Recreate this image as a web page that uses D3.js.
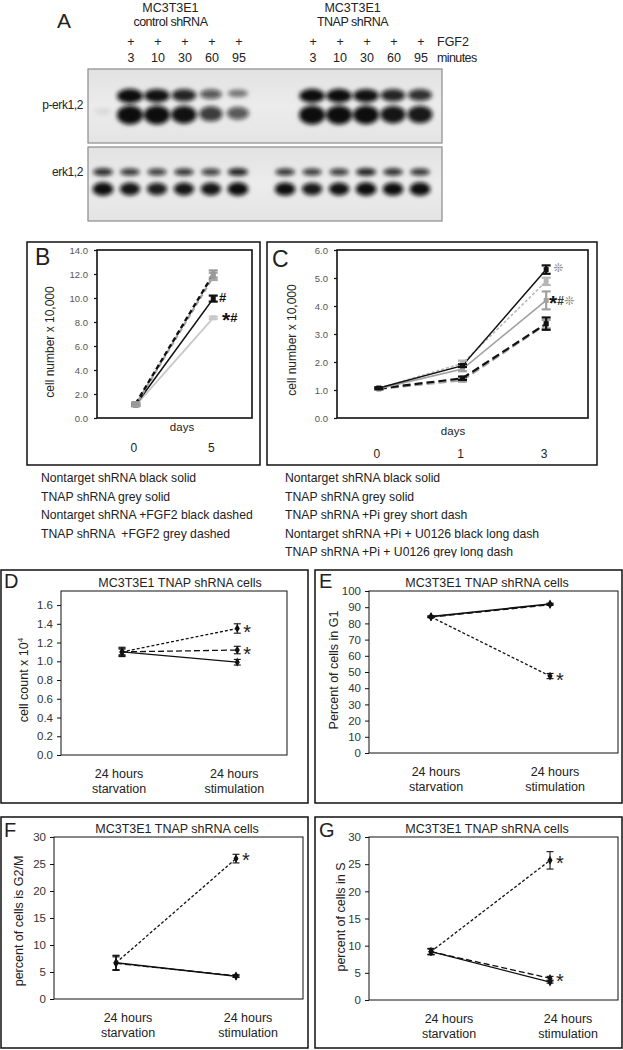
<!DOCTYPE html>
<html><head><meta charset="utf-8">
<script src="https://cdn.jsdelivr.net/npm/d3@7"></script>
<style>
body{margin:0;background:#fff}
text{font-family:"Liberation Sans",Arial,Helvetica,sans-serif;fill:#222}
</style>
</head><body>
<script>
// ================= DATA =================
// Panel A – western blot (band intensity 0..1), lanes: 0 (unstimulated) + 5 time points
const blotGroups = ["control shRNA", "TNAP shRNA"];
const blotTimes = ["3", "10", "30", "60", "95"];
const perkUpperCtrl = [0.0, 1.0, 0.92, 0.82, 0.55, 0.35];
const perkLowerCtrl = [0.06, 1.0, 1.0, 0.92, 0.7, 0.55];
const perkUpperTnap = [0.0, 0.95, 0.95, 0.92, 0.82, 0.76];
const perkLowerTnap = [0.0, 1.0, 1.0, 0.98, 0.9, 0.88];
const erkUpperCtrl = [0.8, 0.75, 0.7, 0.76, 0.7, 0.86];
const erkLowerCtrl = [1.0, 0.9, 0.86, 0.9, 0.9, 1.0];
const erkUpperTnap = [0.75, 0.72, 0.72, 0.86, 0.78, 0.76];
const erkLowerTnap = [0.95, 0.88, 0.92, 1.0, 0.95, 1.0];

// Panel B
const daysB = ["0", "5"];
const bBlackDashed = [1.2, 12.0], bBlackDashedErr = [0.12, 0.3];
const bGreyDashed = [1.1, 11.8], bGreyDashedErr = [0.1, 0.3];
const bBlackSolid = [1.1, 9.95], bBlackSolidErr = [0.1, 0.25];
const bGreySolid = [1.05, 8.35], bGreySolidErr = [0.08, 0.1];
const ticksB = [0, 2, 4, 6, 8, 10, 12, 14];

// Panel C
const daysC = ["0", "1", "3"];
const cBlackSolid = [1.07, 1.87, 5.3], cBlackSolidErr = [0.03, 0.05, 0.15];
const cGreySolid = [1.05, 1.75, 4.2], cGreySolidErr = [0.03, 0.08, 0.32];
const cGreyShort = [1.06, 1.95, 4.88], cGreyShortErr = [0.03, 0.1, 0.13];
const cBlackLong = [1.05, 1.42, 3.37], cBlackLongErr = [0.03, 0.06, 0.22];
const cGreyLong = [1.04, 1.35, 3.35], cGreyLongErr = [0.03, 0.05, 0.15];
const ticksC = [0, 1, 2, 3, 4, 5, 6];

const legendB = ["Nontarget shRNA black solid", "TNAP shRNA grey solid",
  "Nontarget shRNA +FGF2 black dashed", "TNAP shRNA  +FGF2 grey dashed"];
const legendC = ["Nontarget shRNA black solid", "TNAP shRNA grey solid",
  "TNAP shRNA +Pi grey short dash", "Nontarget shRNA +Pi + U0126 black long dash",
  "TNAP shRNA +Pi + U0126 grey long dash"];

// Panels D-G
const cycleCats = ["24 hours starvation", "24 hours stimulation"];
const panelTitle = "MC3T3E1 TNAP shRNA cells";
const dShort = [1.10, 1.35], dShortErr = [0.04, 0.05];
const dLong = [1.10, 1.12], dLongErr = [0.05, 0.04];
const dSolid = [1.10, 0.99], dSolidErr = [0.03, 0.03];
const ticksD = [0, 0.2, 0.4, 0.6, 0.8, 1.0, 1.2, 1.4, 1.6];
const eShort = [84, 47.5], eShortErr = [0.5, 1.6];
const eLong = [84, 91.6], eLongErr = [0.4, 0.5];
const eSolid = [84.2, 92], eSolidErr = [0.4, 0.5];
const ticksE = [0, 10, 20, 30, 40, 50, 60, 70, 80, 90, 100];
const fShort = [6.7, 26.0], fShortErr = [1.4, 0.8];
const fLong = [6.6, 4.3], fLongErr = [1.2, 0.2];
const fSolid = [6.7, 4.2], fSolidErr = [1.3, 0.2];
const ticksF = [0, 5, 10, 15, 20, 25, 30];
const gShort = [8.9, 25.7], gShortErr = [0.6, 1.6];
const gLong = [8.9, 4.0], gLongErr = [0.5, 0.35];
const gSolid = [8.9, 3.3], gSolidErr = [0.5, 0.2];
const ticksG = [0, 5, 10, 15, 20, 25, 30];

// ================= DRAW =================
const svg = d3.select("body").append("svg").attr("width", 623).attr("height", 1050);
svg.append("rect").attr("width", 623).attr("height", 1050).attr("fill", "#fff");
const defs = svg.append("defs");
defs.append("filter").attr("id", "blur").attr("x", "-50%").attr("y", "-80%").attr("width", "200%").attr("height", "260%")
  .append("feGaussianBlur").attr("stdDeviation", 2.0);
defs.append("clipPath").attr("id", "legclip").append("rect").attr("x", 0).attr("y", 460).attr("width", 623).attr("height", 97.5);
const grad = defs.append("linearGradient").attr("id", "blotbg").attr("x1", 0).attr("x2", 0).attr("y1", 0).attr("y2", 1);
grad.append("stop").attr("offset", "0%").attr("stop-color", "#e2e2e2");
grad.append("stop").attr("offset", "50%").attr("stop-color", "#ececec");
grad.append("stop").attr("offset", "100%").attr("stop-color", "#e4e4e4");

// ---------- Panel A ----------
const gA = svg.append("g");
gA.append("text").attr("x", 57).attr("y", 28).attr("font-size", 21).text("A");
const laneX = d3.scaleLinear().domain([0, 11.75]).range([103, 420]);
const laneIdx = (g, i) => (g === 0 ? i : 6.75 + i);
blotGroups.forEach((name, g) => {
  const cx = (laneX(laneIdx(g, 0)) + laneX(laneIdx(g, 5))) / 2;
  gA.append("text").attr("x", cx).attr("y", 12).attr("text-anchor", "middle").attr("font-size", 12.5).text("MC3T3E1");
  gA.append("text").attr("x", cx).attr("y", 26).attr("text-anchor", "middle").attr("font-size", 12.5)
    .attr("letter-spacing", -0.5).text(name);
  blotTimes.forEach((t, k) => {
    const x = laneX(laneIdx(g, k + 1)) + 1;
    gA.append("text").attr("x", x).attr("y", 46).attr("text-anchor", "middle").attr("font-size", 12.5).text("+");
    gA.append("text").attr("x", x).attr("y", 62).attr("text-anchor", "middle").attr("font-size", 12.5).text(t);
  });
});
gA.append("text").attr("x", 437).attr("y", 46).attr("font-size", 12.5).text("FGF2");
gA.append("text").attr("x", 437).attr("y", 62).attr("font-size", 12.5).attr("letter-spacing", -0.6).text("minutes");

const blots = [
  { label: "p-erk1,2", y0: 69, y1: 143, labelY: 109, rx: d => 8.5 + 4.5 * d,
    bands: [
      { vals: [perkUpperCtrl, perkUpperTnap], cy: i => 92 + 4 * i, ry: i => 2.2 + 5 * i },
      { vals: [perkLowerCtrl, perkLowerTnap], cy: i => 111 + 4 * i, ry: i => 3 + 6.5 * i }
    ] },
  { label: "erk1,2", y0: 147, y1: 221, labelY: 176, rx: d => 8 + 2.5 * d,
    bands: [
      { vals: [erkUpperCtrl, erkUpperTnap], cy: i => 172, ry: i => 1.8 + 2.4 * i },
      { vals: [erkLowerCtrl, erkLowerTnap], cy: i => 189, ry: i => 2.8 + 4 * i }
    ] }
];
blots.forEach(b => {
  gA.append("rect").attr("x", 88).attr("y", b.y0).attr("width", 354).attr("height", b.y1 - b.y0)
    .attr("fill", "url(#blotbg)").attr("stroke", "#8c8c8c").attr("stroke-width", 1.2);
  gA.append("text").attr("x", 83).attr("y", b.labelY).attr("text-anchor", "end").attr("font-size", 12)
    .attr("letter-spacing", -0.4).text(b.label);
  const bg = gA.append("g").attr("filter", "url(#blur)");
  b.bands.forEach(band => {
    band.vals.forEach((arr, g) => {
      bg.selectAll(null).data(arr).join("ellipse")
        .attr("cx", (d, i) => laneX(laneIdx(g, i)))
        .attr("cy", d => band.cy(d))
        .attr("rx", d => b.rx(d))
        .attr("ry", d => band.ry(d))
        .attr("fill", "#0b0b0b")
        .attr("fill-opacity", d => (d <= 0 ? 0 : d < 0.2 ? d * 1.2 : Math.min(1, 0.2 + 0.85 * d)));
    });
  });
});

// ---------- helper for B & C ----------
function growthPanel(o) {
  const g = svg.append("g");
  g.append("rect").attr("x", o.box[0]).attr("y", o.box[1]).attr("width", o.box[2] - o.box[0]).attr("height", o.box[3] - o.box[1])
    .attr("fill", "none").attr("stroke", "#111").attr("stroke-width", 1.5);
  g.append("text").attr("x", o.letter[1]).attr("y", o.letter[2]).attr("font-size", 23).text(o.letter[0]);
  const [l, t, r, b] = o.plot;
  const x = d3.scalePoint().domain(o.cats).range([l, r]).padding(0.5);
  const y = d3.scaleLinear().domain(o.domain).range([b, t]);
  const ax = g.append("g").attr("transform", `translate(${l},0)`)
    .call(d3.axisLeft(y).tickValues(o.ticks).tickFormat(d3.format(".1f")).tickSize(3).tickPadding(6));
  ax.select(".domain").remove();
  ax.selectAll("line").attr("stroke", "#111").attr("stroke-width", 1.2);
  ax.selectAll("text").attr("font-size", 9.5).style("fill", "#555").attr("font-family", "Liberation Sans, Arial, sans-serif");
  g.append("rect").attr("x", l).attr("y", t).attr("width", r - l).attr("height", b - t)
    .attr("fill", "none").attr("stroke", "#111").attr("stroke-width", 1.6);
  g.append("text").attr("x", o.daysX).attr("y", o.daysY).attr("text-anchor", "middle").attr("font-size", 11.5).text("days");
  g.selectAll(null).data(o.cats).join("text").attr("x", d => x(d) - 2).attr("y", o.catY)
    .attr("text-anchor", "middle").attr("font-size", 12).text(d => d);
  g.append("text").attr("transform", `translate(${o.ylabX},${(t + b) / 2 + o.ylabDy}) rotate(-90)`)
    .attr("text-anchor", "middle").attr("dy", "0.35em").attr("font-size", 12).text("cell number x 10,000");
  const line = d3.line().x((d, i) => x(o.cats[i])).y(d => y(d));
  o.series.forEach(s => {
    g.append("path").attr("d", line(s.v)).attr("fill", "none").attr("stroke", s.c).attr("stroke-width", s.w)
      .attr("stroke-dasharray", s.dash || null).attr("stroke-dashoffset", s.off || 0);
  });
  o.series.forEach(s => {
    const eg = g.append("g").attr("stroke", s.ec || s.c).attr("stroke-width", 2.2);
    s.v.forEach((v, i) => {
      const cx = x(o.cats[i]);
      const e = s.e[i];
      eg.append("line").attr("x1", cx).attr("x2", cx).attr("y1", y(v - e)).attr("y2", y(v + e));
      [v - e, v + e].forEach(vv => eg.append("line").attr("x1", cx - 4.5).attr("x2", cx + 4.5).attr("y1", y(vv)).attr("y2", y(vv)));
      g.append("rect").attr("x", cx - 2.5).attr("y", y(v) - 2.5).attr("width", 5).attr("height", 5).attr("fill", s.ec || s.c);
    });
  });
  o.notes.forEach(n => {
    const tx = g.append("text").attr("x", n.x).attr("y", y(n.v) + n.dy).attr("font-size", 13);
    n.parts.forEach(p => tx.append("tspan").text(p[0]).style("fill", p[1]).attr("font-size", p[2])
      .attr("font-weight", p[3] || "normal").attr("dy", p[4] || 0)
      .attr("font-family", p[5] || null));
  });
  return { x, y };
}

growthPanel({
  box: [27, 242, 260, 465], plot: [97, 250, 252, 418], letter: ["B", 35, 265],
  cats: daysB, domain: [0, 14], ticks: ticksB, daysX: 182, daysY: 431, catY: 452, ylabX: 50, ylabDy: 8,
  series: [
    { v: bGreySolid, e: bGreySolidErr, c: "#c9c9c9", w: 1.8 },
    { v: bBlackSolid, e: bBlackSolidErr, c: "#111", w: 1.6 },
    { v: bGreyDashed, e: bGreyDashedErr, c: "#a5a5a5", w: 2.4, dash: "5,3", off: 4 },
    { v: bBlackDashed, e: bBlackDashedErr, c: "#111", w: 2.4, dash: "5,3", ec: "#999" }
  ],
  notes: [
    { x: 219, v: 10.0, dy: 4, parts: [["#", "#111", 13, "bold"]] },
    { x: 222, v: 8.4, dy: 10, parts: [["*", "#111", 21, "bold", 0], ["#", "#111", 13, "bold", -5.5]] }
  ]
});

growthPanel({
  box: [267, 242, 597, 465], plot: [337, 250, 588, 418], letter: ["C", 272, 267],
  cats: daysC, domain: [0, 6], ticks: ticksC, daysX: 453, daysY: 435, catY: 458, ylabX: 292, ylabDy: 6,
  series: [
    { v: cGreyLong, e: cGreyLongErr, c: "#a0a0a0", w: 2.2, dash: "8,4" },
    { v: cBlackLong, e: cBlackLongErr, c: "#111", w: 2.2, dash: "8,4" },
    { v: cGreySolid, e: cGreySolidErr, c: "#a0a0a0", w: 1.6 },
    { v: cGreyShort, e: cGreyShortErr, c: "#b5b5b5", w: 1.5, dash: "3,2" },
    { v: cBlackSolid, e: cBlackSolidErr, c: "#111", w: 1.5 }
  ],
  notes: [
    { x: 553, v: 5.4, dy: 5, parts: [["❊", "#8a8a8a", 12, "normal", 0, "DejaVu Sans"]] },
    { x: 549, v: 4.2, dy: 10, parts: [["*", "#111", 21, "bold", 0], ["#", "#333", 12, "bold", -5.5],
      ["❊", "#8a8a8a", 12, "normal", 0, "DejaVu Sans"]] }
  ]
});

// legends
const lg = svg.append("g").attr("clip-path", "url(#legclip)");
lg.selectAll(null).data(legendB).join("text").attr("x", 41).attr("y", (d, i) => 482 + i * 18.5)
  .attr("font-size", 12.2).style("white-space", "pre").text(d => d);
lg.selectAll(null).data(legendC).join("text").attr("x", 285).attr("y", (d, i) => 482 + i * 18.6)
  .attr("font-size", 12.2).style("white-space", "pre").text(d => d);

// ---------- helper for D-G ----------
function cyclePanel(o) {
  const g = svg.append("g");
  g.append("rect").attr("x", o.box[0]).attr("y", o.box[1]).attr("width", o.box[2] - o.box[0]).attr("height", o.box[3] - o.box[1])
    .attr("fill", "none").attr("stroke", "#111").attr("stroke-width", 1.5);
  g.append("text").attr("x", o.letter[1]).attr("y", o.letter[2]).attr("font-size", 20).text(o.letter[0]);
  const [l, t, r, b] = o.plot;
  const w = r - l;
  const x = d3.scalePoint().domain(cycleCats).range([l + w * o.pf[0], l + w * o.pf[1]]);
  const y = d3.scaleLinear().domain(o.domain).range([b, t]);
  g.append("text").attr("x", o.titleX).attr("y", t - 4).attr("text-anchor", "middle").attr("font-size", 12.5).text(panelTitle);
  const ax = g.append("g").attr("transform", `translate(${l},0)`)
    .call(d3.axisLeft(y).tickValues(o.ticks).tickFormat(d3.format(o.fmt)).tickSize(4).tickPadding(4));
  ax.select(".domain").remove();
  ax.selectAll("line").attr("stroke", "#111");
  ax.selectAll("text").attr("font-size", 11.5).style("fill", "#333").attr("font-family", "Liberation Sans, Arial, sans-serif");
  g.append("rect").attr("x", l).attr("y", t).attr("width", w).attr("height", b - t)
    .attr("fill", "none").attr("stroke", "#111").attr("stroke-width", 1);
  cycleCats.forEach(c => {
    const parts = c.split(" ");
    const tx = g.append("text").attr("x", x(c) + o.labDx).attr("y", b + 23).attr("text-anchor", "middle").attr("font-size", 12.5);
    tx.append("tspan").attr("x", x(c) + o.labDx).text(parts[0] + " " + parts[1]);
    tx.append("tspan").attr("x", x(c) + o.labDx).attr("dy", 14.5).text(parts[2]);
  });
  const yl = g.append("text").attr("transform", `translate(${o.ylab[0]},${o.ylab[1]}) rotate(-90)`)
    .attr("text-anchor", "middle").attr("dy", "0.35em").attr("font-size", 12.5);
  yl.append("tspan").text(o.ylabel);
  if (o.sup) yl.append("tspan").attr("font-size", 8).attr("dy", -5).text(o.sup);
  const line = d3.line().x((d, i) => x(cycleCats[i])).y(d => y(d));
  o.series.forEach(s => {
    g.append("path").attr("d", line(s.v)).attr("fill", "none").attr("stroke", "#111").attr("stroke-width", s.w || 1.3)
      .attr("stroke-dasharray", s.dash || null);
    s.v.forEach((v, i) => {
      const cx = x(cycleCats[i]), e = s.e[i];
      g.append("line").attr("x1", cx).attr("x2", cx).attr("y1", y(v - e)).attr("y2", y(v + e)).attr("stroke", "#111").attr("stroke-width", 1.1);
      [v - e, v + e].forEach(vv => g.append("line").attr("x1", cx - 3.5).attr("x2", cx + 3.5).attr("y1", y(vv)).attr("y2", y(vv))
        .attr("stroke", "#111").attr("stroke-width", 1.1));
      g.append("path").attr("d", d3.symbol(d3.symbolDiamond, 22)()).attr("transform", `translate(${cx},${y(v)})`).attr("fill", "#111");
    });
  });
  o.stars.forEach(v => {
    g.append("text").attr("x", x(cycleCats[1]) + 6).attr("y", y(v) + 11).attr("font-size", 20).text("*");
  });
}

const dashShort = "3,2", dashLong = "6,3";
cyclePanel({
  box: [1, 570, 308, 803], plot: [61, 591, 287, 755], letter: ["D", 4, 588], titleX: 180,
  pf: [0.27, 0.78], labDx: -3, domain: [0, 1.75], ticks: ticksD, fmt: ".1f",
  ylabel: "cell count x 10", sup: "4", ylab: [24, 680],
  series: [{ v: dSolid, e: dSolidErr }, { v: dLong, e: dLongErr, dash: dashLong }, { v: dShort, e: dShortErr, dash: dashShort }],
  stars: [1.35, 1.12]
});
cyclePanel({
  box: [315, 570, 622, 803], plot: [369, 591, 618, 753], letter: ["E", 319, 588], titleX: 487,
  pf: [0.249, 0.727], labDx: 5, domain: [0, 100], ticks: ticksE, fmt: "d",
  ylabel: "Percent of cells in G1", ylab: [334, 670],
  series: [{ v: eSolid, e: eSolidErr, w: 1.6 }, { v: eLong, e: eLongErr, dash: dashLong, w: 1.6 }, { v: eShort, e: eShortErr, dash: dashShort }],
  stars: [47.5]
});
cyclePanel({
  box: [1, 817, 308, 1048], plot: [54, 837, 303, 999], letter: ["F", 4, 837], titleX: 177,
  pf: [0.249, 0.731], labDx: 12, domain: [0, 30], ticks: ticksF, fmt: "d",
  ylabel: "percent of cells is G2/M", ylab: [19, 921],
  series: [{ v: fSolid, e: fSolidErr, w: 1.5 }, { v: fLong, e: fLongErr, dash: dashLong }, { v: fShort, e: fShortErr, dash: dashShort }],
  stars: [26.4]
});
cyclePanel({
  box: [315, 817, 622, 1048], plot: [369, 837, 618, 1000], letter: ["G", 319, 837], titleX: 487,
  pf: [0.249, 0.727], labDx: 18, domain: [0, 30], ticks: ticksG, fmt: "d",
  ylabel: "percent of cells in S", ylab: [341, 917],
  series: [{ v: gSolid, e: gSolidErr }, { v: gLong, e: gLongErr, dash: dashLong }, { v: gShort, e: gShortErr, dash: dashShort }],
  stars: [26.0, 4.3]
});
</script>
</body></html>
